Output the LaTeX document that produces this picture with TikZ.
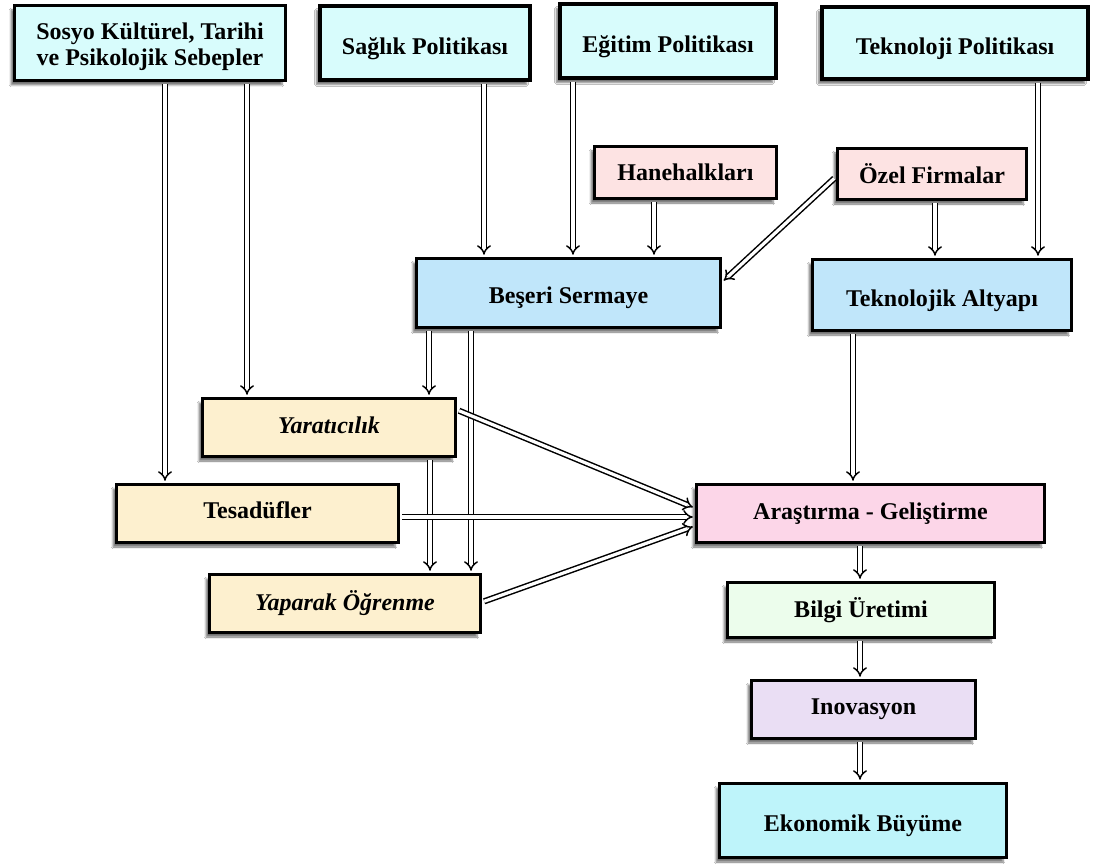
\documentclass[tikz,border=0pt]{standalone}
\usepackage{fontspec}
\setmainfont{Liberation Serif}
\usetikzlibrary{arrows.meta,shadows.blur}
\definecolor{cTop}{HTML}{D8FCFC}
\definecolor{cEko}{HTML}{BEF4FA}
\definecolor{cBlue}{HTML}{C0E6FA}
\definecolor{cPink}{HTML}{FDE3E3}
\definecolor{cYel}{HTML}{FDF0CF}
\definecolor{cArg}{HTML}{FCD6E8}
\definecolor{cGrn}{HTML}{ECFDEC}
\definecolor{cLav}{HTML}{EADEF4}
\newcommand{\dn}[2]{\raisebox{-#1}[\height][\depth]{#2}}
\begin{document}
\begin{tikzpicture}[x=1pt,y=-1pt,
  box/.style={draw, line width=3.5pt, fill=#1, inner sep=0pt, align=center,
    font=\fontsize{24}{26}\selectfont\bfseries,
    blur shadow={shadow xshift=-3.5pt, shadow yshift=-4.5pt, shadow blur steps=7, shadow opacity=55}},
  arr/.style={double, double distance=3.2pt, line width=1.5pt, -{Implies}, shorten >=2pt, shorten <=2pt}]
\fill[white] (0,0) rectangle (1094,866);
\useasboundingbox (0,0) rectangle (1094,866);

\node[box=cTop, minimum width=271, minimum height=75] (sosyo) at (150,43) {\dn{4pt}{\begin{tabular}{@{}c@{}}Sosyo Kültürel, Tarihi\\ve Psikolojik Sebepler\end{tabular}}};
\node[box=cTop, minimum width=210, minimum height=74] (saglik) at (425,43) {\dn{6pt}{Sağlık Politikası}};
\node[box=cTop, minimum width=216, minimum height=74] (egitim) at (668,41) {\dn{6pt}{Eğitim Politikası}};
\node[box=cTop, minimum width=266, minimum height=72] (tekpol) at (955,43) {\dn{6pt}{Teknoloji Politikası}};
\node[box=cPink, minimum width=182, minimum height=52] (hane) at (685.5,172.5) {Hanehalkları};
\node[box=cPink, minimum width=189, minimum height=51] (ozel) at (932,174) {Özel Firmalar};
\node[box=cBlue, minimum width=304, minimum height=69] (besi) at (568.5,293) {\dn{5pt}{Beşeri Sermaye}};
\node[box=cBlue, minimum width=259, minimum height=71] (tekalt) at (942,295) {\dn{6pt}{Teknolojik Altyapı}};
\node[box=cYel, minimum width=253, minimum height=58] (yarat) at (329,427.5) {\dn{-2pt}{\itshape Yaratıcılık}};
\node[box=cYel, minimum width=282, minimum height=58] (tesad) at (257.5,513.5) {\dn{-3pt}{Tesadüfler}};
\node[box=cYel, minimum width=271, minimum height=58] (yapar) at (345,603.5) {\itshape Yaparak Öğrenme};
\node[box=cArg, minimum width=348, minimum height=58] (arast) at (870.5,513.5) {Araştırma - Geliştirme};
\node[box=cGrn, minimum width=267, minimum height=55] (bilgi) at (861,610) {Bilgi Üretimi};
\node[box=cLav, minimum width=224, minimum height=58] (inov) at (863.5,709.5) {Inovasyon};
\node[box=cEko, minimum width=287, minimum height=74] (ekon) at (863,820.5) {\dn{5pt}{Ekonomik Büyüme}};

\draw[arr] ([xshift=15]sosyo.south) -- ([xshift=15]sosyo.south |- tesad.north);
\draw[arr] ([xshift=97]sosyo.south) -- ([xshift=97]sosyo.south |- yarat.north);
\draw[arr] ([xshift=59]saglik.south) -- ([xshift=59]saglik.south |- besi.north);
\draw[arr] ([xshift=-95]egitim.south) -- ([xshift=-95]egitim.south |- besi.north);
\draw[arr] ([xshift=-31.5]hane.south) -- ([xshift=-31.5]hane.south |- besi.north);
\draw[arr] ([xshift=83]tekpol.south) -- ([xshift=83]tekpol.south |- tekalt.north);
\draw[arr] ([xshift=3]ozel.south) -- ([xshift=3]ozel.south |- tekalt.north);
\draw[arr] ([yshift=-3]ozel.west) -- ([yshift=11]besi.east);
\draw[arr] ([xshift=-139.5]besi.south) -- ([xshift=-139.5]besi.south |- yarat.north);
\draw[arr] ([xshift=-97.5]besi.south) -- ([xshift=-97.5]besi.south |- yapar.north);
\draw[arr] ([xshift=101]yarat.south) -- ([xshift=101]yarat.south |- yapar.north);
\draw[arr] ([xshift=-89]tekalt.south) -- ([xshift=-89]tekalt.south |- arast.north);
\draw[arr] ([yshift=17.5]yarat.east) -- ([yshift=5.5]arast.west);
\draw[arr] ([yshift=-3.5]tesad.east) -- ([yshift=-3.5]arast.west);
\draw[arr] ([yshift=1.5]yapar.east) -- ([yshift=-12.5]arast.west);
\draw[arr] ([xshift=-10.5]arast.south) -- ([xshift=-10.5]arast.south |- bilgi.north);
\draw[arr] ([xshift=-1]bilgi.south) -- ([xshift=-1]bilgi.south |- inov.north);
\draw[arr] ([xshift=-3.5]inov.south) -- ([xshift=-3.5]inov.south |- ekon.north);
\end{tikzpicture}
\end{document}
